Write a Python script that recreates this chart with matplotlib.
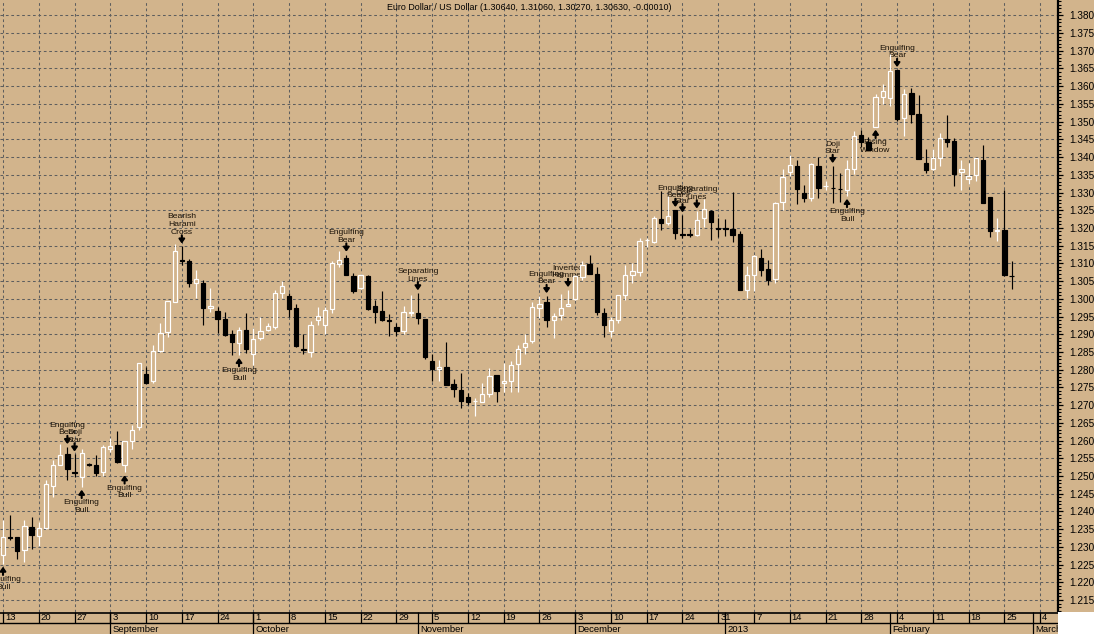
import matplotlib
matplotlib.use('Agg')
import matplotlib.pyplot as plt
import numpy as np
import pandas as pd
from matplotlib.patches import Rectangle
from matplotlib.ticker import MultipleLocator, FormatStrFormatter, FixedLocator

plt.rcParams['font.family'] = ['Liberation Sans', 'DejaVu Sans']

# ---------------- data ----------------
title = "Euro Dollar / US Dollar (1.30640, 1.31060, 1.30270, 1.30630, -0.00010)"
start_date = '2012-08-13'
n_slots = 148  # trading-day slots shown on the axis (incl. empty ones at right)

opens = [1.2277, 1.2328, 1.2327, 1.2290, 1.2356, 1.2332, 1.2353, 1.2472, 1.2532, 1.2561,
         1.2510, 1.2497, 1.2533, 1.2532, 1.2512, 1.2577, 1.2587, 1.2532, 1.2598, 1.2639,
         1.2787, 1.2769, 1.2852, 1.2906, 1.2992, 1.3109, 1.3106, 1.3046, 1.3044, 1.2973,
         1.2966, 1.2942, 1.2900, 1.2875, 1.2912, 1.2843, 1.2889, 1.2912, 1.2920, 1.3016,
         1.3008, 1.2975, 1.2859, 1.2851, 1.2939, 1.2925, 1.2971, 1.3098, 1.3115, 1.3065,
         1.3030, 1.3065, 1.2980, 1.2966, 1.2940, 1.2921, 1.2908, 1.2961, 1.2959, 1.2943,
         1.2825, 1.2801, 1.2808, 1.2759, 1.2742, 1.2722, 1.2711, 1.2710, 1.2730, 1.2785,
         1.2761, 1.2769, 1.2815, 1.2863, 1.2882, 1.2974, 1.2990, 1.2940, 1.2953, 1.2980,
         1.2999, 1.3061, 1.3099, 1.3071, 1.2959, 1.2908, 1.2940, 1.3011, 1.3066, 1.3076,
         1.3165, 1.3159, 1.3226, 1.3213, 1.3250, 1.3182, 1.3182, 1.3180, 1.3227, 1.3249,
         1.3199, 1.3199, 1.3198, 1.3184, 1.3025, 1.3067, 1.3115, 1.3084, 1.3056, 1.3273,
         1.3358, 1.3376, 1.3300, 1.3284, 1.3376, 1.3318, 1.3313, 1.3311, 1.3308, 1.3367,
         1.3463, 1.3442, 1.3486, 1.3570, 1.3567, 1.3645, 1.3510, 1.3580, 1.3521, 1.3384,
         1.3365, 1.3398, 1.3450, 1.3444, 1.3358, 1.3339, 1.3349, 1.3393, 1.3288, 1.3192,
         1.3193, 1.3064]
highs = [1.2375, 1.2389, 1.2329, 1.2375, 1.2384, 1.2370, 1.2488, 1.2544, 1.2590, 1.2582,
         1.2561, 1.2575, 1.2537, 1.2558, 1.2587, 1.2606, 1.2626, 1.2600, 1.2643, 1.2820,
         1.2807, 1.2870, 1.2933, 1.2995, 1.3156, 1.3148, 1.3113, 1.3082, 1.3054, 1.3030,
         1.2978, 1.2962, 1.2912, 1.2920, 1.2961, 1.2917, 1.2950, 1.2931, 1.3025, 1.3049,
         1.3016, 1.2986, 1.2901, 1.2938, 1.2976, 1.2978, 1.3106, 1.3135, 1.3125, 1.3073,
         1.3070, 1.3066, 1.2997, 1.3023, 1.2957, 1.2931, 1.2980, 1.3011, 1.3016, 1.2944,
         1.2843, 1.2827, 1.2877, 1.2774, 1.2790, 1.2733, 1.2719, 1.2763, 1.2806, 1.2785,
         1.2818, 1.2825, 1.2870, 1.2901, 1.2992, 1.3007, 1.3008, 1.2959, 1.3013, 1.3025,
         1.3068, 1.3106, 1.3125, 1.3090, 1.2974, 1.2950, 1.3011, 1.3095, 1.3101, 1.3173,
         1.3171, 1.3233, 1.3304, 1.3290, 1.3251, 1.3236, 1.3197, 1.3247, 1.3282, 1.3250,
         1.3228, 1.3226, 1.3301, 1.3191, 1.3092, 1.3125, 1.3141, 1.3110, 1.3272, 1.3365,
         1.3405, 1.3393, 1.3320, 1.3382, 1.3401, 1.3332, 1.3375, 1.3356, 1.3392, 1.3474,
         1.3476, 1.3458, 1.3577, 1.3606, 1.3691, 1.3646, 1.3592, 1.3596, 1.3575, 1.3422,
         1.3424, 1.3467, 1.3518, 1.3455, 1.3393, 1.3382, 1.3397, 1.3433, 1.3288, 1.3228,
         1.3307, 1.3106]
lows = [1.2252, 1.2318, 1.2266, 1.2258, 1.2294, 1.2301, 1.2350, 1.2441, 1.2530, 1.2490,
        1.2497, 1.2469, 1.2527, 1.2501, 1.2501, 1.2568, 1.2538, 1.2510, 1.2576, 1.2631,
        1.2761, 1.2763, 1.2850, 1.2891, 1.2990, 1.3096, 1.3032, 1.3002, 1.2927, 1.2964,
        1.2903, 1.2895, 1.2841, 1.2841, 1.2846, 1.2813, 1.2884, 1.2908, 1.2914, 1.3002,
        1.2948, 1.2865, 1.2844, 1.2837, 1.2926, 1.2900, 1.2959, 1.3090, 1.3066, 1.3016,
        1.3028, 1.2969, 1.2931, 1.2938, 1.2895, 1.2895, 1.2901, 1.2952, 1.2929, 1.2830,
        1.2769, 1.2769, 1.2757, 1.2724, 1.2693, 1.2701, 1.2670, 1.2708, 1.2724, 1.2709,
        1.2736, 1.2738, 1.2736, 1.2843, 1.2875, 1.2945, 1.2920, 1.2889, 1.2941, 1.2979,
        1.2997, 1.3054, 1.3070, 1.2954, 1.2893, 1.2893, 1.2931, 1.2998, 1.3046, 1.3063,
        1.3146, 1.3157, 1.3193, 1.3209, 1.3170, 1.3173, 1.3174, 1.3177, 1.3202, 1.3167,
        1.3174, 1.3176, 1.3159, 1.3024, 1.3002, 1.3021, 1.3063, 1.3040, 1.3046, 1.3250,
        1.3346, 1.3268, 1.3273, 1.3277, 1.3284, 1.3307, 1.3271, 1.3273, 1.3290, 1.3351,
        1.3429, 1.3420, 1.3485, 1.3549, 1.3544, 1.3502, 1.3459, 1.3497, 1.3395, 1.3354,
        1.3363, 1.3376, 1.3429, 1.3318, 1.3308, 1.3325, 1.3332, 1.3270, 1.3175, 1.3162,
        1.3065, 1.3027]
closes = [1.2329, 1.2326, 1.2288, 1.2359, 1.2333, 1.2353, 1.2478, 1.2532, 1.2558, 1.2520,
          1.2508, 1.2566, 1.2532, 1.2508, 1.2582, 1.2586, 1.2540, 1.2598, 1.2631, 1.2818,
          1.2763, 1.2852, 1.2903, 1.2994, 1.3134, 1.3107, 1.3046, 1.3056, 1.2973, 1.2981,
          1.2942, 1.2897, 1.2879, 1.2912, 1.2859, 1.2886, 1.2908, 1.2924, 1.3016, 1.3037,
          1.2971, 1.2868, 1.2856, 1.2925, 1.2951, 1.2969, 1.3101, 1.3109, 1.3068, 1.3023,
          1.3068, 1.2972, 1.2964, 1.2939, 1.2938, 1.2908, 1.2962, 1.2962, 1.2945, 1.2835,
          1.2802, 1.2808, 1.2758, 1.2746, 1.2712, 1.2709, 1.2712, 1.2730, 1.2781, 1.2741,
          1.2767, 1.2813, 1.2858, 1.2875, 1.2976, 1.2986, 1.2941, 1.2952, 1.2974, 1.2985,
          1.3063, 1.3095, 1.3071, 1.2963, 1.2927, 1.2939, 1.3010, 1.3067, 1.3078, 1.3163,
          1.3166, 1.3228, 1.3213, 1.3235, 1.3185, 1.3181, 1.3181, 1.3223, 1.3254, 1.3216,
          1.3198, 1.3198, 1.3179, 1.3024, 1.3067, 1.3120, 1.3080, 1.3054, 1.3271, 1.3344,
          1.3379, 1.3310, 1.3284, 1.3381, 1.3312, 1.3319, 1.3312, 1.3310, 1.3367, 1.3460,
          1.3443, 1.3421, 1.3570, 1.3587, 1.3642, 1.3507, 1.3579, 1.3522, 1.3395, 1.3363,
          1.3398, 1.3454, 1.3443, 1.3351, 1.3367, 1.3348, 1.3396, 1.3271, 1.3191, 1.3193,
          1.3066, 1.3063]

pattern_idx = [0, 9, 10, 11, 17, 25, 33, 48, 58, 76, 79, 94, 95, 97, 116, 118, 122, 125]
pattern_text = ['Engulfing\nBull', 'Engulfing\nBear', 'Doji\nStar', 'Engulfing\nBull',
                'Engulfing\nBull', 'Bearish\nHarami\nCross', 'Engulfing\nBull',
                'Engulfing\nBear', 'Separating\nLines', 'Engulfing\nBear',
                'Inverted\nHammer', 'Engulfing\nBear', 'Doji\nStar', 'Separating\nLines',
                'Doji\nStar', 'Engulfing\nBull', 'Rising\nWindow', 'Engulfing\nBear']
pattern_side = ['below', 'above', 'above', 'below', 'below', 'above', 'below', 'above',
                'above', 'above', 'above', 'above', 'above', 'above', 'above', 'below',
                'below', 'above']

y_ticks = [round(v, 3) for v in np.arange(1.215, 1.3801, 0.005)]

# ---------------- style ----------------
TAN = '#D2B48C'
GRID = '#5e5e5e'
W, H = 1094, 634
px = 1.0 / W
py = 1.0 / H
plot_right = 1058
plot_bottom = 612
y_lo, y_hi = 1.21161, 1.38433
x_lo, x_hi = -0.42, 147.5

fig = plt.figure(figsize=(W / 100, H / 100), dpi=100, facecolor=TAN)
fig.patches.append(Rectangle((plot_right * px, 0), 1 - plot_right * px, (H - plot_bottom) * py,
                             transform=fig.transFigure, facecolor='white', edgecolor='none',
                             zorder=0))

ax = fig.add_axes([0, (H - plot_bottom) * py, plot_right * px, plot_bottom * py])
ax.set_facecolor(TAN)
ax.set_xlim(x_lo, x_hi)
ax.set_ylim(y_lo, y_hi)

dates = pd.bdate_range(start_date, periods=n_slots)
mondays = [i for i, d in enumerate(dates) if d.weekday() == 0]
month_starts = [i for i in range(1, len(dates)) if dates[i].month != dates[i - 1].month]

ax.xaxis.set_major_locator(FixedLocator(mondays))
ax.yaxis.set_major_locator(FixedLocator(y_ticks))
ax.yaxis.set_minor_locator(MultipleLocator(0.001))
ax.yaxis.set_major_formatter(FormatStrFormatter('%.3f'))
ax.yaxis.tick_right()
ax.tick_params(axis='x', length=0, labelbottom=False)
ax.tick_params(axis='y', which='major', length=3.6, width=0.9, pad=4.5, labelsize=7.2,
               colors='black')
ax.tick_params(axis='y', which='minor', length=2, width=0.8)
for s in ['left', 'top', 'bottom']:
    ax.spines[s].set_visible(False)
ax.spines['right'].set_linewidth(1.6)
ax.set_axisbelow(True)
ax.grid(True, which='major', color=GRID, linestyle=(0, (2.6, 2.6)), linewidth=0.75)

# candles
bw = 0.6
for i, (o, h, l, c) in enumerate(zip(opens, highs, lows, closes)):
    up = c >= o
    col = 'white' if up else 'black'
    ax.vlines(i, l, h, color=col, linewidth=0.85, zorder=3)
    ax.add_patch(Rectangle((i - bw / 2, min(o, c)), bw, abs(c - o),
                           facecolor=TAN if up else 'black', edgecolor=col,
                           linewidth=0.85, zorder=4))

# pattern annotations
arrow_style = '-|>,head_length=0.24,head_width=0.17'
for i, txt, side in zip(pattern_idx, pattern_text, pattern_side):
    if side == 'above':
        y = highs[i]
        ax.annotate('', xy=(i, y), xytext=(0, 8.0), textcoords='offset points',
                    arrowprops=dict(arrowstyle=arrow_style, color='black', lw=1.5,
                                    shrinkA=0, shrinkB=2.0),
                    zorder=2)
        ax.annotate(txt, xy=(i, y), xytext=(0, 7.6), textcoords='offset points',
                    ha='center', va='bottom', fontsize=6.1, linespacing=1.15,
                    color='#1a1208', zorder=2, annotation_clip=False)
    else:
        y = lows[i]
        ax.annotate('', xy=(i, y), xytext=(0, -8.0), textcoords='offset points',
                    arrowprops=dict(arrowstyle=arrow_style, color='black', lw=1.5,
                                    shrinkA=0, shrinkB=2.0),
                    zorder=2)
        ax.annotate(txt, xy=(i, y), xytext=(0, -8.8), textcoords='offset points',
                    ha='center', va='top', fontsize=6.1, linespacing=1.15,
                    color='#1a1208', zorder=2, annotation_clip=False)

ax.text(0.5, 1 - 7.0 / plot_bottom, title, transform=ax.transAxes, ha='center',
        va='center', fontsize=6.4, color='black', zorder=5)

# ---------------- date axis ----------------
axd = fig.add_axes([0, 0, plot_right * px, (H - plot_bottom) * py])
axd.set_facecolor(TAN)
axd.set_xlim(x_lo, x_hi)
axd.set_ylim(0, H - plot_bottom)
axd.axis('off')
axd.add_patch(Rectangle((x_lo, 0), x_hi - x_lo, H - plot_bottom, facecolor=TAN,
                        edgecolor='none', zorder=0))
top = H - plot_bottom
axd.axhline(top - 0.5, color='black', lw=1.2)
axd.axhline(11, color='black', lw=1.0)
day_px = 7.152
for i in mondays:
    axd.vlines(i, 11, top, color='black', lw=0.9)
    axd.text(i + 2.0 / day_px, 16.3, str(dates[i].day), ha='left', va='center',
             fontsize=6.8, color='black')
for i in month_starts:
    axd.vlines(i, 0, top, color='black', lw=0.9)
    label = str(dates[i].year) if dates[i].month == 1 else dates[i].strftime('%B')
    axd.text(i + 2.0 / day_px, 5.0, label, ha='left', va='center', fontsize=6.8,
             color='black', clip_on=True)

fig.savefig('out.png', dpi=100, facecolor=TAN)
